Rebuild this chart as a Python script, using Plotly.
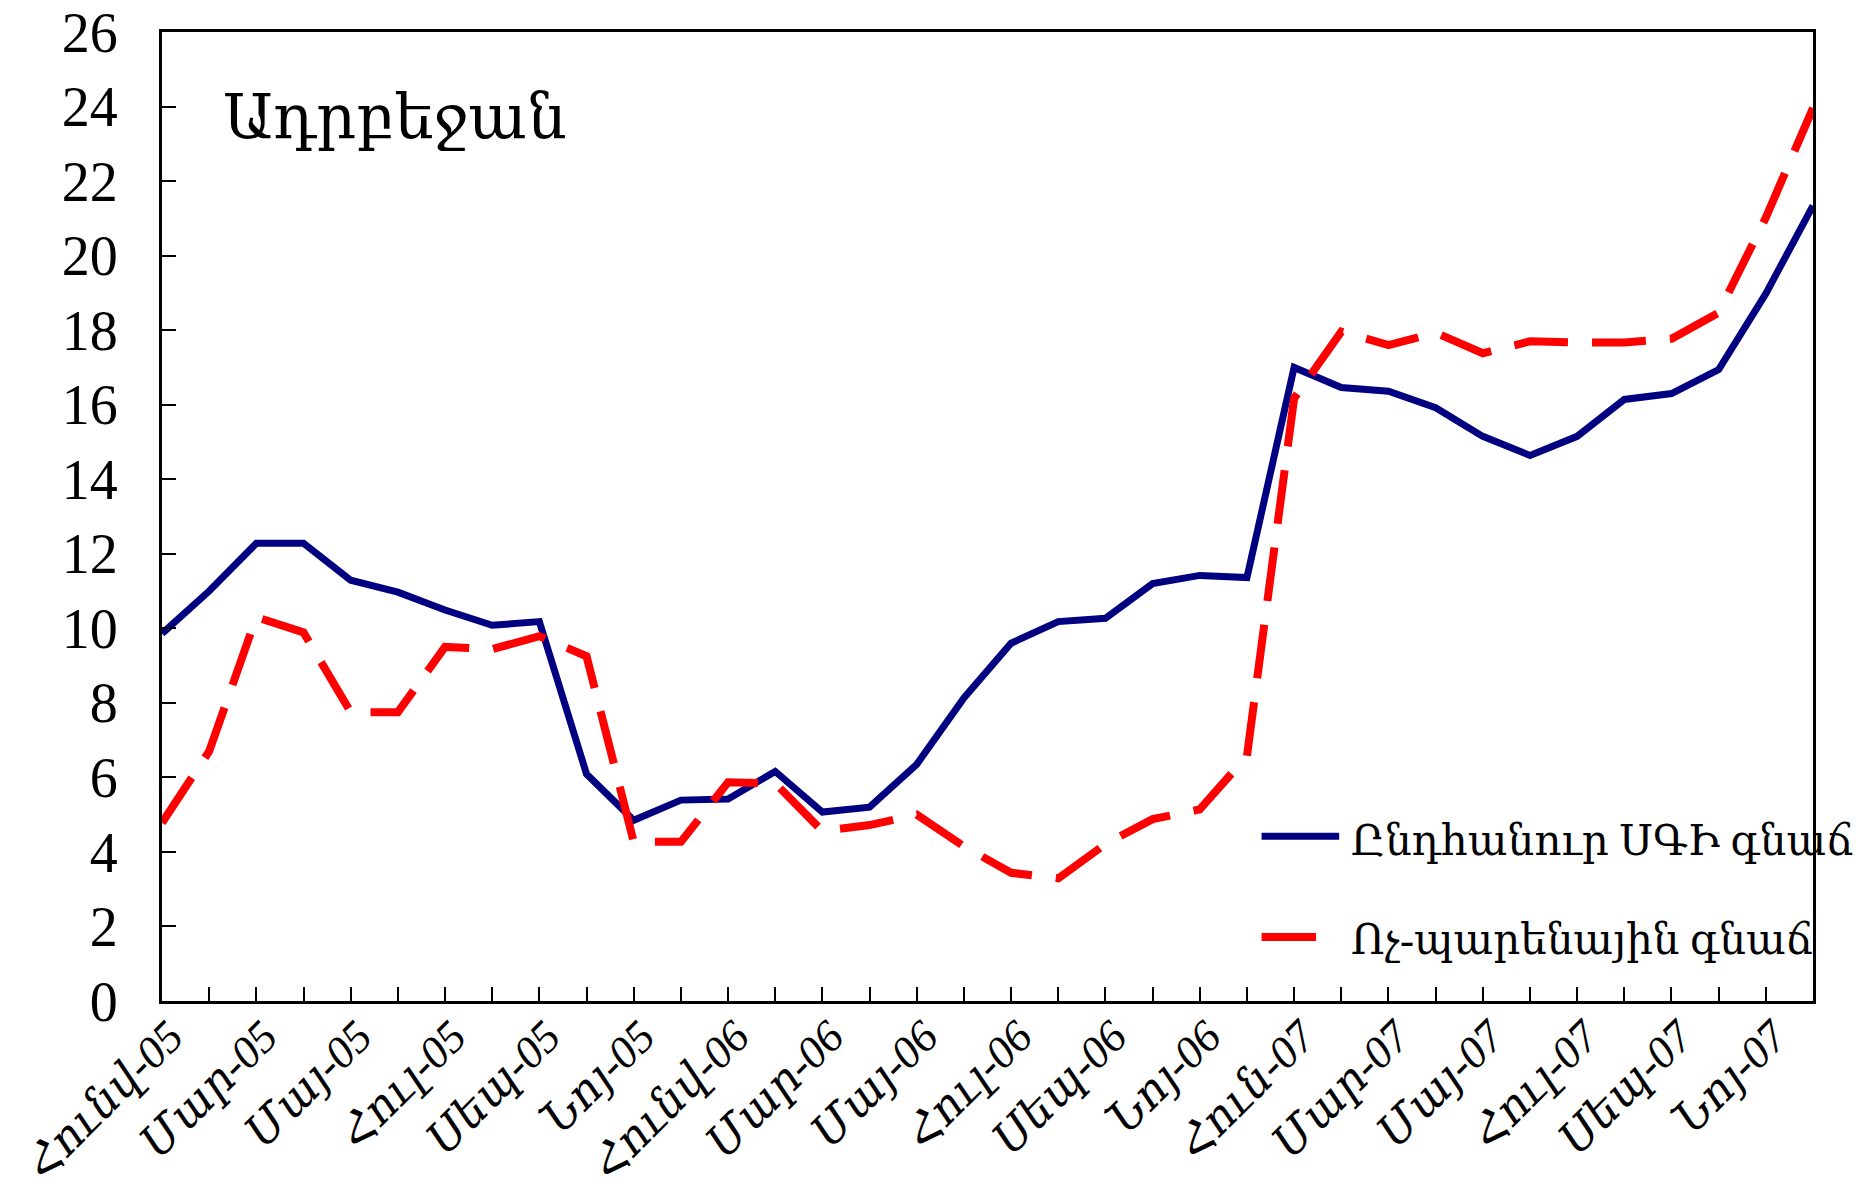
import plotly.graph_objects as go

months = list(range(36))
tick_labels = ["Հունվ-05", "Մար-05", "Մայ-05", "Հուլ-05", "Սեպ-05", "Նոյ-05",
               "Հունվ-06", "Մար-06", "Մայ-06", "Հուլ-06", "Սեպ-06", "Նոյ-06",
               "Հուն-07", "Մար-07", "Մայ-07", "Հուլ-07", "Սեպ-07", "Նոյ-07"]

cpi_total = [9.86, 11.0, 12.28, 12.28, 11.29, 10.97, 10.49, 10.08, 10.18, 6.09,
             4.85, 5.39, 5.42, 6.16, 5.07, 5.2, 6.35, 8.13, 9.6, 10.18,
             10.27, 11.2, 11.42, 11.36, 17.0, 16.46, 16.36, 15.92, 15.15, 14.64,
             15.15, 16.14, 16.3, 16.94, 18.98, 21.34]
cpi_nonfood = [4.78, 6.7, 10.3, 9.89, 7.75, 7.75, 9.5, 9.44, 9.79, 9.25,
               4.27, 4.27, 5.87, 5.84, 4.56, 4.72, 5.0, 4.15, 3.44, 3.29,
               4.21, 4.88, 5.14, 6.57, 16.17, 17.96, 17.6, 17.93, 17.38, 17.7,
               17.67, 17.67, 17.77, 18.47, 21.02, 23.96]

name_total = "Ընդհանուր ՍԳԻ գնաճ"
name_nonfood = "Ոչ-պարենային գնաճ"
title_text = "Ադրբեջան"

FONT = "Liberation Serif, DejaVu Serif, serif"
BLUE = "#000080"
RED = "#FF0000"

fig = go.Figure()
fig.add_trace(go.Scatter(x=months, y=cpi_total, mode="lines", name=name_total,
                         line=dict(color=BLUE, width=7), showlegend=False))
fig.add_trace(go.Scatter(x=months, y=cpi_nonfood, mode="lines", name=name_nonfood,
                         line=dict(color=RED, width=8, dash="54px,24px"), showlegend=False))

ticktext = []
for i in months:
    ticktext.append("<i>" + tick_labels[i // 2] + "</i>" if i % 2 == 0 else "")

# manual legend (styling only)
shapes = [
    dict(type="line", xref="paper", yref="paper", x0=0.666, x1=0.713, y0=0.170, y1=0.170,
         line=dict(color=BLUE, width=7)),
    dict(type="line", xref="paper", yref="paper", x0=0.666, x1=0.699, y0=0.066, y1=0.066,
         line=dict(color=RED, width=8)),
]
annotations = [
    dict(text=title_text, x=0.036, y=0.912, xref="paper", yref="paper",
         xanchor="left", yanchor="middle", showarrow=False,
         font=dict(size=62, family=FONT)),
    dict(text=name_total, x=0.719, y=0.165, xref="paper", yref="paper",
         xanchor="left", yanchor="middle", showarrow=False,
         font=dict(size=42, family=FONT)),
    dict(text=name_nonfood, x=0.719, y=0.063, xref="paper", yref="paper",
         xanchor="left", yanchor="middle", showarrow=False,
         font=dict(size=42, family=FONT)),
]

fig.update_layout(
    width=1864, height=1199,
    margin=dict(l=154, r=59, t=24, b=206),
    paper_bgcolor="white", plot_bgcolor="white",
    font=dict(family=FONT, color="black", size=44),
    showlegend=False,
    shapes=shapes,
    annotations=annotations,
)
fig.update_xaxes(range=[0, 35], tickmode="array", tickvals=months, ticktext=ticktext,
                 tickangle=-45, ticks="inside", ticklen=14, tickwidth=2, tickcolor="black",
                 showline=True, linecolor="black", linewidth=3, mirror=True,
                 showgrid=False, zeroline=False, automargin=False,
                 ticklabeloverflow="allow", ticklabelstandoff=-12, ticklabelshift=8,
                 tickfont=dict(size=45, family=FONT))
fig.update_yaxes(range=[0, 26], tickmode="linear", tick0=0, dtick=2,
                 ticks="inside", ticklen=14, tickwidth=2, tickcolor="black",
                 showline=True, linecolor="black", linewidth=3, mirror=True,
                 showgrid=False, zeroline=False, automargin=False,
                 ticklabelstandoff=30, ticklabeloverflow="allow",
                 tickfont=dict(size=56, family=FONT))

fig.write_html("out.html")
